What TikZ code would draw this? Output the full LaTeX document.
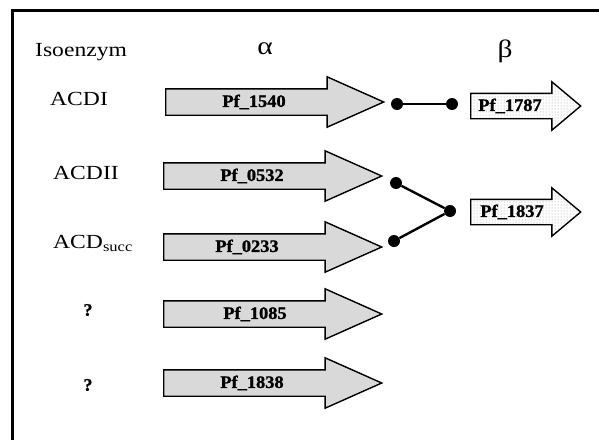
\documentclass[tikz,border=0pt]{standalone}
\usepackage{fontspec}
\setmainfont{Liberation Serif}[FakeStretch=1.18]
\newfontfamily\genefont{Liberation Serif}[FakeStretch=1.05, BoldFeatures={FakeBold=1.2}]
\usetikzlibrary{shapes.arrows,patterns,positioning}

\begin{document}
\begin{tikzpicture}[x=1pt, y=-1pt,
  hdr/.style={font=\fontsize{20}{23}\selectfont, inner sep=0pt},
  greek/.style={font=\fontsize{25}{28}\selectfont, inner sep=0pt},
  gene/.style={font=\genefont\fontsize{17.5}{20}\selectfont\bfseries, inner sep=0pt},
  alphaarrow/.style={single arrow, draw=black, line width=1.4pt, fill=gray!30,
    inner xsep=0pt, inner ysep=12.5pt, minimum height=218pt,
    single arrow head extend=12pt, single arrow tip angle=48, anchor=tail},
  betaarrow/.style={single arrow, draw=black, line width=1.4pt,
    preaction={fill=white}, pattern=dots, pattern color=gray!80,
    inner xsep=0pt, inner ysep=12pt, minimum height=110pt,
    single arrow head extend=11.5pt, single arrow tip angle=80, anchor=tail},
  dot/.style={circle, fill=black, inner sep=0pt, minimum size=12pt},
  link/.style={line width=2.4pt},
]
\useasboundingbox (0,0) rectangle (599,439);
\begin{scope}
  \clip (0,0) rectangle (599,439);
  \draw[line width=3pt] (12,460) -- (12,10) -- (620,10);
\end{scope}

% Kopfzeile
\node[hdr, anchor=base west] (iso) at (35,56) {Isoenzym};
\node[greek] (alpha) at (265,49) {α};
\node[greek] (beta)  at (505,51) {β};

% Isoenzyme
\node[hdr, anchor=base west] (acdi)   at (50,105) {ACDI};
\node[hdr, anchor=base west] (acdii)  at (53,179) {ACDII};
\node[hdr, anchor=base west] (acds)   at (53,248) {ACD\textsubscript{succ}};
\node[gene] (q1) at (88,310) {?};
\node[gene] (q2) at (88,385) {?};

% alpha-Untereinheiten
\node[alphaarrow] (a1) at (165,102) {};
\node[alphaarrow] (a2) at (163,176) {};
\node[alphaarrow] (a3) at (163,247) {};
\node[alphaarrow] (a4) at (163,314) {};
\node[alphaarrow] (a5) at (163,383) {};
\node[gene] at (254,102) {Pf\_1540};
\node[gene] at (252,176) {Pf\_0532};
\node[gene] at (247,247) {Pf\_0233};
\node[gene] at (255,314) {Pf\_1085};
\node[gene] at (252,383) {Pf\_1838};

% beta-Untereinheiten
\node[betaarrow] (b1) at (470,106) {};
\node[betaarrow] (b2) at (470,212) {};
\node[gene] at (510,106) {Pf\_1787};
\node[gene] at (512,212) {Pf\_1837};

% Verknuepfungen
\node[dot] (d1) at (397,104) {};
\node[dot] (d2) at (452,104) {};
\node[dot] (d3) at (396,183) {};
\node[dot] (d4) at (450,211) {};
\node[dot] (d5) at (394,241) {};
\draw[link] (d1) -- (d2);
\draw[link] (d3) -- (d4);
\draw[link] (d5) -- (d4);
\end{tikzpicture}
\end{document}
